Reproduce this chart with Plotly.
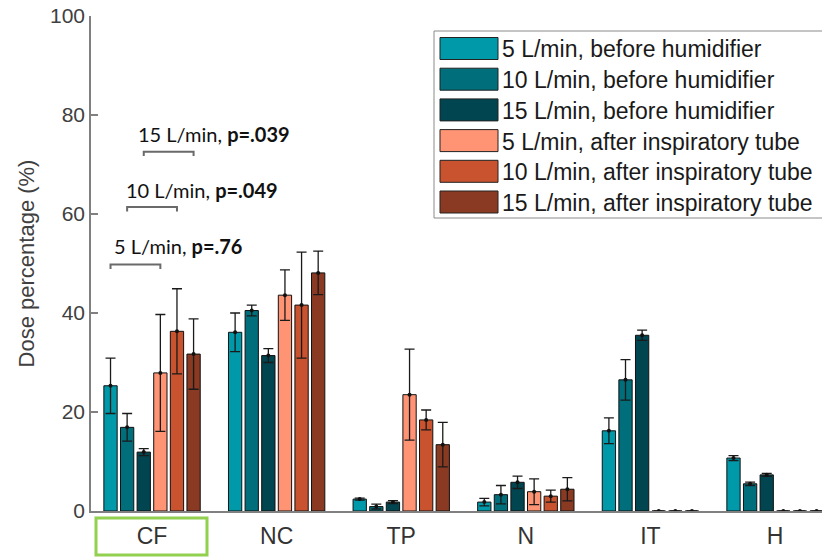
import plotly.graph_objects as go

categories = ["CF", "NC", "TP", "N", "IT", "H"]
series_names = [
    "5 L/min, before humidifier",
    "10 L/min, before humidifier",
    "15 L/min, before humidifier",
    "5 L/min, after inspiratory tube",
    "10 L/min, after inspiratory tube",
    "15 L/min, after inspiratory tube",
]
colors = ["#0099A9", "#016E7B", "#00454F", "#FF9474", "#C9532F", "#8A3A22"]

mean_5_before = [25.3, 36.1, 2.4, 1.8, 16.2, 10.7]
mean_10_before = [16.9, 40.5, 0.9, 3.3, 26.5, 5.5]
mean_15_before = [11.9, 31.4, 1.8, 5.8, 35.5, 7.3]
mean_5_after = [27.9, 43.6, 23.5, 3.9, 0.0, 0.0]
mean_10_after = [36.3, 41.6, 18.4, 3.0, 0.0, 0.0]
mean_15_after = [31.7, 48.1, 13.4, 4.4, 0.0, 0.0]

sd_5_before = [5.6, 3.9, 0.2, 0.75, 2.6, 0.5]
sd_10_before = [2.8, 1.1, 0.5, 1.85, 4.1, 0.35]
sd_15_before = [0.7, 1.4, 0.3, 1.25, 1.05, 0.3]
sd_5_after = [11.8, 5.1, 9.2, 2.6, 0.0, 0.0]
sd_10_after = [8.6, 10.7, 2.0, 1.2, 0.0, 0.0]
sd_15_after = [7.1, 4.4, 4.5, 2.35, 0.0, 0.0]

means = [mean_5_before, mean_10_before, mean_15_before, mean_5_after, mean_10_after, mean_15_after]
sds = [sd_5_before, sd_10_before, sd_15_before, sd_5_after, sd_10_after, sd_15_after]

comparison_labels = ["5 L/min, ", "10 L/min, ", "15 L/min, "]
comparison_p = ["p=.76", "p=.049", "p=.039"]

y_tick_values = [0, 20, 40, 60, 80, 100]

# layout geometry (pixels in an 822x560 page)
W, H = 822, 560
ML, MR, MT, MB = 91, 0, 16, 49
BARGAP = 0.2
XR = [0.51, 6.377]

xpos = list(range(1, len(categories) + 1))

fig = go.Figure()
for i, name in enumerate(series_names):
    fig.add_trace(go.Bar(
        x=xpos, y=means[i], name=name,
        marker=dict(color=colors[i], line=dict(color="#111111", width=1)),
        offsetgroup=str(i), alignmentgroup="a", showlegend=False,
        hoverinfo="skip",
    ))
for i, name in enumerate(series_names):
    fig.add_trace(go.Scatter(
        x=xpos, y=means[i], mode="markers", orientation="v",
        offsetgroup=str(i), alignmentgroup="a", showlegend=False,
        marker=dict(color="#111111", size=4),
        error_y=dict(type="data", array=sds[i], visible=True,
                     color="#1a1a1a", thickness=1.3, width=5),
        hoverinfo="skip",
    ))

slot = (1 - BARGAP) / len(series_names)


def bar_center(cat_index, series_index):
    return xpos[cat_index] - (1 - BARGAP) / 2 + slot * (series_index + 0.5)


def px_to_x(px):
    return XR[0] + (px - ML) / (W - ML - MR) * (XR[1] - XR[0])


def px_to_py(py):
    return (H - MB - py) / (H - MT - MB)


def px_to_px(px):
    return (px - ML) / (W - ML - MR)


shapes = []
annotations = []

# significance brackets (CF: before vs after)
bracket_y = [49.8, 61.4, 72.6]
bracket_drop = 0.9
text_y = [53.5, 64.8, 76.1]
text_px = [112, 124, 136]
for k in range(3):
    x0 = bar_center(0, k)
    x1 = bar_center(0, k + 3)
    y = bracket_y[k]
    shapes.append(dict(type="path", xref="x", yref="y",
                       path=f"M {x0},{y - bracket_drop} L {x0},{y} L {x1},{y} L {x1},{y - bracket_drop}",
                       line=dict(color="#6a6a6a", width=2)))
    annotations.append(dict(x=px_to_x(text_px[k]), y=text_y[k], xref="x", yref="y",
                            xanchor="left", yanchor="middle", showarrow=False,
                            text=comparison_labels[k] + "<b>" + comparison_p[k] + "</b>",
                            font=dict(family="Lato, Open Sans, sans-serif", size=20, color="#111111")))

# legend (drawn manually to get large swatches)
leg_left, leg_right, leg_top, leg_bottom = 434, 824, 31, 218
shapes.append(dict(type="rect", xref="paper", yref="paper",
                   x0=px_to_px(leg_left), x1=px_to_px(leg_right),
                   y0=px_to_py(leg_bottom), y1=px_to_py(leg_top),
                   line=dict(color="#8a8a8a", width=1), fillcolor="white", layer="above"))
for i, name in enumerate(series_names):
    cy = 48.5 + 30.7 * i
    shapes.append(dict(type="rect", xref="paper", yref="paper",
                       x0=px_to_px(440), x1=px_to_px(498),
                       y0=px_to_py(cy + 11), y1=px_to_py(cy - 11),
                       line=dict(color="#222222", width=1), fillcolor=colors[i], layer="above"))
    annotations.append(dict(x=px_to_px(500), y=px_to_py(cy + 1), xref="paper", yref="paper",
                            xanchor="left", yanchor="middle", showarrow=False, text=name,
                            font=dict(family="Liberation Sans, Arial, sans-serif", size=23, color="#1a1a1a")))

# green highlight box around the CF tick label
shapes.append(dict(type="rect", xref="paper", yref="paper",
                   x0=px_to_px(96), x1=px_to_px(207),
                   y0=px_to_py(555), y1=px_to_py(518),
                   line=dict(color="#92D050", width=3)))

fig.update_layout(
    width=W, height=H,
    margin=dict(l=ML, r=MR, t=MT, b=MB, pad=0),
    paper_bgcolor="white", plot_bgcolor="white",
    barmode="group", bargap=BARGAP, bargroupgap=0.2,
    scattermode="group", scattergap=BARGAP,
    shapes=shapes, annotations=annotations,
    showlegend=False,
    font=dict(family="Liberation Sans, Arial, sans-serif", color="#333333"),
)
fig.update_xaxes(
    range=XR, tickvals=xpos, ticktext=categories, ticks="",
    showline=True, linecolor="#808080", linewidth=1.5,
    showgrid=False, zeroline=False, automargin=False,
    ticklabelstandoff=4,
    tickfont=dict(size=23, color="#333333"),
)
fig.update_yaxes(
    range=[0, 100], tickvals=y_tick_values, ticks="inside", ticklen=7,
    tickcolor="#808080", tickwidth=1.5,
    showline=True, linecolor="#808080", linewidth=1.5,
    showgrid=False, zeroline=False, automargin=False,
    tickfont=dict(size=21, color="#404040"),
    title=dict(text="Dose percentage (%)", font=dict(size=22, color="#404040"), standoff=9),
)

fig.write_html("out.html", config={"displayModeBar": False},
               post_script="document.body.style.margin='0';document.body.style.overflow='hidden';")
